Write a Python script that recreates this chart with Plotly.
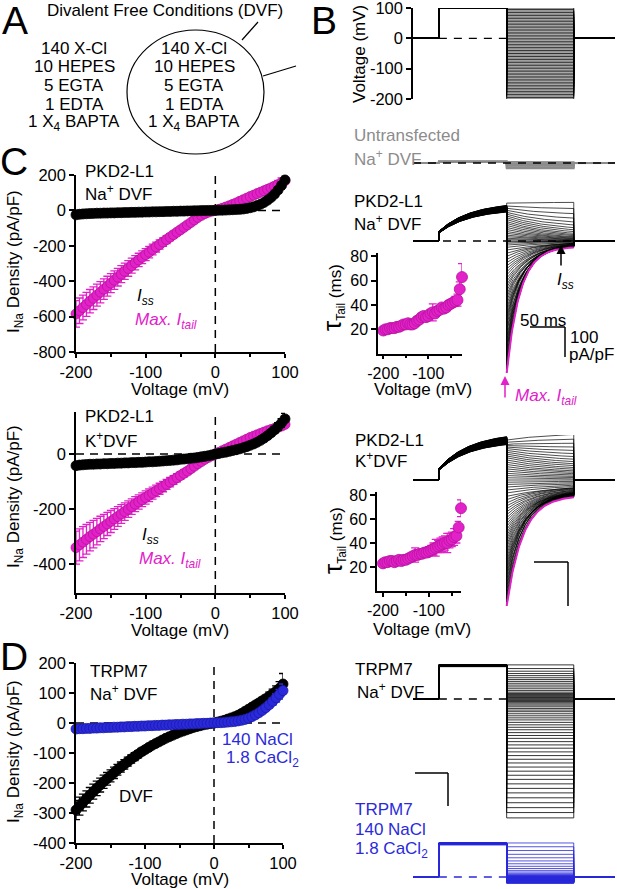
import numpy as np
import plotly.graph_objects as go

W, H = 617, 889
FONT = "Arial, 'Liberation Sans', sans-serif"
MAG = "#E221C9"
MAG_DK = "#B8129E"
BLUE = "#2A2ADB"
BLUE_DK = "#1A1AA8"
GRAY = "#8C8C8C"

# ---- I-V data: test voltage (mV) vs current density (pA/pF) ----
volt = list(range(-200, 105, 5))

# PKD2-L1, Na+ DVF
na_tail = [-585, -567, -549, -531, -513, -496, -479, -462, -445, -428,
           -411, -394, -377, -360, -344, -328, -312, -296, -280, -265,
           -250, -236, -221, -207, -193, -179, -165, -151, -137, -123,
           -110, -96, -82, -68, -54, -40, -28, -18, -10, -4,
           0, 6, 12, 19, 26, 34, 42, 51, 60, 69,
           78, 86, 95, 103, 111, 119, 127, 136, 145, 155, 168]
na_tail_err = [75, 72, 70, 68, 66, 64, 62, 60, 58, 56,
               54, 52, 50, 48, 46, 44, 42, 40, 38, 36,
               34, 32, 30, 28, 26, 24, 22, 20, 18, 16,
               15, 14, 12, 11, 10, 8, 6, 5, 4, 3,
               2, 2, 3, 4, 5, 6, 7, 8, 9, 10,
               11, 12, 13, 14, 16, 18, 20, 22, 25, 28, 40]
na_ss = [-25, -22, -20, -19, -18, -17, -16, -16, -15, -15,
         -14, -14, -13, -13, -12, -12, -11, -11, -10, -10,
         -9, -9, -8, -8, -7, -7, -6, -6, -5, -5,
         -4, -4, -3, -3, -2, -2, -1, -1, 0, 0,
         0, 1, 1, 2, 3, 4, 5, 6, 8, 11,
         15, 20, 27, 35, 45, 58, 73, 92, 115, 141, 172]
na_ss_err = [5, 4, 4, 4, 4, 4, 4, 4, 4, 4,
             4, 4, 4, 4, 4, 4, 4, 4, 4, 4,
             3, 3, 3, 3, 3, 3, 3, 3, 3, 3,
             3, 3, 3, 3, 3, 3, 3, 3, 3, 3,
             3, 3, 3, 3, 3, 3, 3, 3, 4, 4,
             5, 5, 6, 7, 8, 10, 12, 14, 17, 20, 30]

# PKD2-L1, K+ DVF
k_tail = [-340, -330, -320, -310, -300, -291, -282, -272, -263, -254,
          -245, -236, -227, -218, -209, -200, -191, -182, -174, -166,
          -158, -150, -142, -134, -126, -118, -110, -102, -94, -86,
          -78, -70, -62, -53, -44, -35, -27, -19, -12, -6,
          0, 6, 12, 18, 24, 30, 36, 42, 48, 54,
          60, 65, 70, 75, 80, 85, 89, 93, 97, 102, 108]
k_tail_err = [60, 58, 56, 54, 52, 50, 48, 46, 44, 42,
              40, 38, 36, 34, 32, 30, 28, 27, 26, 25,
              24, 23, 22, 21, 20, 19, 18, 17, 16, 15,
              14, 13, 12, 11, 10, 9, 8, 7, 6, 5,
              4, 4, 4, 5, 5, 6, 6, 7, 7, 8,
              8, 9, 9, 10, 10, 11, 11, 12, 12, 13, 14]
k_ss = [-42, -40, -39, -38, -37, -37, -36, -36, -35, -35,
        -34, -34, -33, -33, -32, -32, -31, -31, -30, -30,
        -29, -28, -28, -27, -26, -25, -24, -23, -22, -21,
        -19, -18, -17, -15, -14, -12, -10, -8, -6, -3,
        0, 2, 5, 7, 10, 13, 16, 19, 23, 27,
        32, 37, 43, 50, 58, 67, 77, 88, 100, 113, 128]
k_ss_err = [6, 5, 5, 5, 5, 5, 5, 5, 5, 5,
            5, 5, 5, 5, 5, 5, 4, 4, 4, 4,
            4, 4, 4, 4, 4, 4, 4, 4, 4, 4,
            3, 3, 3, 3, 3, 3, 3, 3, 3, 3,
            3, 3, 3, 3, 3, 3, 4, 4, 4, 5,
            5, 6, 6, 7, 8, 9, 10, 12, 14, 16, 20]

# TRPM7, Na+ DVF (black) and 140 NaCl / 1.8 CaCl2 (blue)
dvf_ss = [-290, -277, -265, -253, -241, -229, -218, -207, -196, -186,
          -176, -166, -156, -147, -138, -129, -120, -112, -104, -96,
          -89, -82, -75, -69, -63, -57, -51, -46, -41, -36,
          -31, -27, -23, -19, -15, -12, -9, -6, -4, -2,
          0, 3, 6, 9, 13, 17, 21, 26, 32, 39,
          46, 53, 60, 67, 74, 81, 89, 97, 106, 116, 130]
dvf_err = [32, 30, 28, 27, 26, 25, 24, 23, 22, 21,
           20, 19, 18, 17, 16, 15, 14, 13, 12, 11,
           10, 10, 9, 9, 8, 8, 7, 7, 6, 6,
           5, 5, 5, 4, 4, 4, 3, 3, 3, 3,
           3, 3, 3, 3, 4, 4, 4, 5, 5, 6,
           7, 8, 9, 10, 11, 12, 14, 16, 18, 22, 35]
nacl_ss = [-20, -19, -19, -18, -18, -17, -17, -16, -16, -15,
           -15, -14, -14, -13, -13, -12, -12, -11, -11, -10,
           -10, -9, -9, -8, -8, -7, -7, -6, -6, -5,
           -5, -4, -4, -3, -3, -2, -2, -1, -1, 0,
           0, 1, 1, 2, 3, 4, 5, 7, 9, 12,
           16, 21, 27, 34, 42, 51, 61, 72, 84, 96, 108]
nacl_err = [4, 4, 4, 4, 4, 3, 3, 3, 3, 3,
            3, 3, 3, 3, 3, 3, 3, 3, 3, 3,
            3, 3, 3, 3, 3, 3, 3, 3, 3, 3,
            3, 3, 3, 3, 3, 3, 3, 3, 3, 3,
            3, 3, 3, 3, 3, 3, 3, 3, 4, 4,
            5, 5, 6, 7, 8, 9, 10, 12, 14, 16, 22]

# tail time constants (ms)
na_tau_v = list(range(-200, -20, 5))
na_tau = [19, 20, 20, 21, 21, 21, 22, 22, 23, 24,
          24, 25, 24, 24, 25, 27, 28, 30, 31, 30,
          31, 33, 34, 33, 35, 36, 38, 37, 38, 40,
          41, 42, 43, 44, 53, 63]
na_tau_err = [2, 2, 2, 2, 2, 2, 2, 2, 2, 2,
              2, 2, 2, 2, 2, 3, 3, 3, 3, 3,
              3, 3, 7, 3, 3, 3, 3, 3, 3, 3,
              3, 3, 4, 5, 6, 11]
k_tau_v = list(range(-200, -25, 5))
k_tau = [23, 24, 24, 25, 25, 24, 25, 26, 25, 26,
         26, 27, 28, 29, 30, 30, 31, 31, 32, 32,
         33, 34, 35, 36, 37, 38, 39, 40, 40, 42,
         43, 45, 46, 53, 69]
k_tau_err = [2, 2, 2, 2, 2, 2, 2, 2, 2, 2,
             2, 2, 3, 3, 6, 3, 3, 3, 3, 4,
             4, 4, 5, 7, 5, 6, 6, 6, 8, 6,
             6, 7, 6, 5, 7]

# untransfected cell, leak currents at a subset of test voltages
untr_v = [-200, -150, -100, -50, 0, 50, 100]
untr_i = [-24, -18, -13, -9, -5, -1, 4]
untr_pre = 6

# voltage protocol (ms)
t_step, t_test, t_off, t_end = 37, 134, 230, 289
v_pre = 100

# example TRPM7 cell: outward currents smaller relative to the mean
trpm7_out_gain = 0.64


def X(px):
    return px / W


def Y(py):
    return 1 - py / H


def sweeps(vs, i_ss, i_tail, taus, pre_amp, spread, act_tau, act_frac):
    t_pre = np.arange(t_step, t_test + 0.5, 1.0)
    t_tst = np.arange(t_test, t_off + 0.5, 1.0)
    xs, ys = [], []
    n = len(vs)
    for k in range(n):
        f = 1 - spread * k / max(n - 1, 1)
        pre = pre_amp * f * (act_frac + (1 - act_frac) * (1 - np.exp(-(t_pre - t_step) / act_tau)))
        tst = i_ss[k] + (i_tail[k] - i_ss[k]) * np.exp(-(t_tst - t_test) / taus[k])
        xs += [0, t_step] + list(t_pre) + list(t_tst) + [t_off, t_end, None]
        ys += [0, 0] + list(pre) + list(tst) + [0, 0, None]
    return xs, ys


fig = go.Figure()

# ---------- I-V plots ----------
def iv(y, err, color, edge, xa, ya):
    fig.add_trace(go.Scatter(
        x=volt, y=y, mode="markers", xaxis=xa, yaxis=ya, cliponaxis=False,
        marker=dict(size=10, color=color, line=dict(width=0.8, color=edge)),
        error_y=dict(type="data", array=err, color=color, thickness=1.3, width=4)))

iv(na_tail, na_tail_err, MAG, MAG_DK, "x", "y")
iv(na_ss, na_ss_err, "black", "black", "x", "y")
iv(k_tail, k_tail_err, MAG, MAG_DK, "x2", "y2")
iv(k_ss, k_ss_err, "black", "black", "x2", "y2")
iv(dvf_ss, dvf_err, "black", "black", "x3", "y3")
iv(nacl_ss, nacl_err, BLUE, BLUE_DK, "x3", "y3")

# ---------- voltage protocol ----------
px_, py_ = [], []
for v in volt:
    px_ += [0, t_step, t_step, t_test, t_test, t_off, t_off, t_end, None]
    py_ += [0, 0, v_pre, v_pre, v, v, 0, 0, None]
fig.add_trace(go.Scatter(x=px_, y=py_, mode="lines", xaxis="x4", yaxis="y4",
                         line=dict(color="black", width=0.8)))
fig.add_trace(go.Scatter(x=[t_step, t_test], y=[0, 0], mode="lines", xaxis="x4", yaxis="y4",
                         line=dict(color="black", width=1.3, dash="8px,7px")))

# ---------- untransfected ----------
ux, uy = sweeps(untr_v, untr_i, untr_i, [10] * len(untr_v), untr_pre, 0, 10, 1)
fig.add_trace(go.Scatter(x=ux, y=uy, mode="lines", xaxis="x5", yaxis="y5",
                         line=dict(color=GRAY, width=1.8)))
fig.add_trace(go.Scatter(x=[0, t_end], y=[0, 0], mode="lines", xaxis="x5", yaxis="y5",
                         line=dict(color="black", width=1.3, dash="8px,7px")))

# ---------- PKD2-L1 Na+ traces ----------
na_tau_map = dict(zip(na_tau_v, na_tau))
na_taus = [na_tau_map.get(v, na_tau[-1]) for v in volt]
fig.add_trace(go.Scatter(x=[0, t_end], y=[0, 0], mode="lines", xaxis="x6", yaxis="y6",
                         line=dict(color="black", width=1.3, dash="8px,7px")))
nx, ny = sweeps(volt, na_ss, na_tail, na_taus, na_ss[-1], 0.18, 45, 0.25)
fig.add_trace(go.Scatter(x=nx, y=ny, mode="lines", xaxis="x6", yaxis="y6",
                         line=dict(color="black", width=0.7)))
tt = np.arange(t_test, t_off + 0.5, 1.0)
fig.add_trace(go.Scatter(x=tt, y=na_ss[0] + (na_tail[0] - na_ss[0]) * np.exp(-(tt - t_test) / na_taus[0]),
                         mode="lines", xaxis="x6", yaxis="y6", line=dict(color=MAG, width=2)))

# ---------- PKD2-L1 K+ traces ----------
k_tau_map = dict(zip(k_tau_v, k_tau))
k_taus = [k_tau_map.get(v, k_tau[-1]) for v in volt]
kx, ky = sweeps(volt, k_ss, k_tail, k_taus, k_ss[-1], 0.18, 45, 0.25)
fig.add_trace(go.Scatter(x=kx, y=ky, mode="lines", xaxis="x8", yaxis="y8",
                         line=dict(color="black", width=0.7)))
fig.add_trace(go.Scatter(x=tt, y=k_ss[0] + (k_tail[0] - k_ss[0]) * np.exp(-(tt - t_test) / k_taus[0]),
                         mode="lines", xaxis="x8", yaxis="y8", line=dict(color=MAG, width=2)))

# ---------- tau insets ----------
for vv, tau, err, xa, ya in [(na_tau_v, na_tau, na_tau_err, "x7", "y7"),
                             (k_tau_v, k_tau, k_tau_err, "x9", "y9")]:
    fig.add_trace(go.Scatter(
        x=vv, y=tau, mode="markers", xaxis=xa, yaxis=ya, cliponaxis=False,
        marker=dict(size=11, color=MAG, line=dict(width=0.8, color=MAG_DK)),
        error_y=dict(type="data", array=err, color=MAG, thickness=1.3, width=4)))

# ---------- TRPM7 traces ----------
dvf_disp = [i if i < 0 else i * trpm7_out_gain for i in dvf_ss]
fig.add_trace(go.Scatter(x=[t_step, t_test], y=[0, 0], mode="lines", xaxis="x10", yaxis="y10",
                         line=dict(color="black", width=1.3, dash="8px,7px")))
dx, dy = sweeps(volt, dvf_disp, dvf_disp, [10] * len(volt), dvf_disp[-1], 0.05, 10, 1)
fig.add_trace(go.Scatter(x=dx, y=dy, mode="lines", xaxis="x10", yaxis="y10",
                         line=dict(color="black", width=0.8)))
fig.add_trace(go.Scatter(x=[t_step, t_test], y=[0, 0], mode="lines", xaxis="x11", yaxis="y11",
                         line=dict(color=BLUE, width=1.3, dash="8px,7px")))
bx, by = sweeps(volt, nacl_ss, nacl_ss, [10] * len(volt), nacl_ss[-1], 0.05, 10, 1)
fig.add_trace(go.Scatter(x=bx, y=by, mode="lines", xaxis="x11", yaxis="y11",
                         line=dict(color=BLUE, width=0.8)))

# ---------- axes ----------
def ax(**kw):
    d = dict(showline=True, linecolor="black", linewidth=1.5, ticks="outside", ticklen=5,
             tickwidth=1.5, tickcolor="black", showgrid=False, zeroline=False, automargin=False,
             ticklabeloverflow="allow",
             tickfont=dict(family=FONT, size=16.5, color="black"), fixedrange=True)
    d.update(kw)
    return d


def hidden(dom, rng, anchor):
    return dict(visible=False, domain=dom, range=rng, anchor=anchor, fixedrange=True, automargin=False)


def trace_y(base, top, bot, s, anchor):
    return hidden([Y(bot), Y(top)], [-(bot - base) / s, (base - top) / s], anchor)


minor_x = dict(ticklen=3, ticks="outside", tickcolor="black", tickwidth=1.5)
iv_xt = dict(tickvals=[-200, -100, 0, 100], ticktext=["-200", "-100", "0", "100"], ticklen=4,
             minor=dict(tickvals=[-150, -50, 50], **minor_x))
t_dom = [X(413), X(615)]
t_rng = [0, t_end]
inset_font = dict(family=FONT, size=16, color="black")

fig.update_layout(
    template="none",
    width=W, height=H, margin=dict(l=0, r=0, t=0, b=0, pad=0), autosize=False,
    paper_bgcolor="white", plot_bgcolor="rgba(0,0,0,0)", showlegend=False,
    font=dict(family=FONT, size=17, color="black"),
    xaxis=ax(domain=[X(76), X(285)], range=[-200, 100], anchor="y", **iv_xt),
    yaxis=ax(domain=[Y(352), Y(175)], range=[-800, 200], anchor="x",
             tickvals=[-800, -600, -400, -200, 0, 200],
             ticktext=["-800", "-600", "-400", "-200", "0", "200"]),
    xaxis2=ax(domain=[X(76), X(285)], range=[-200, 100], anchor="y2", **iv_xt),
    yaxis2=ax(domain=[Y(593), Y(412)], range=[-505, 153], anchor="x2",
              tickvals=[-400, -200, 0], ticktext=["-400", "-200", "0"]),
    xaxis3=ax(domain=[X(76), X(283)], range=[-200, 100], anchor="y3", **iv_xt),
    yaxis3=ax(domain=[Y(843), Y(663)], range=[-400, 200], anchor="x3",
              tickvals=[-400, -300, -200, -100, 0, 100, 200],
              ticktext=["-400", "-300", "-200", "-100", "0", "100", "200"]),
    xaxis4=hidden(t_dom, t_rng, "y4"),
    yaxis4=ax(domain=[Y(99), Y(8)], range=[-200, 100], anchor="x4",
              tickvals=[-200, -100, 0, 100], ticktext=["-200", "-100", "0", "100"]),
    xaxis5=hidden(t_dom, t_rng, "y5"),
    yaxis5=trace_y(163, 150, 178, 0.2256, "x5"),
    xaxis6=hidden(t_dom, t_rng, "y6"),
    yaxis6=trace_y(241, 190, 385, 0.2256, "x6"),
    xaxis7=ax(domain=[X(378), X(462)], range=[-211.8, -25], anchor="y7",
              tickvals=[-200, -100], ticktext=["-200", "-100"], ticklen=4,
              minor=dict(tickvals=[-150, -50], **minor_x), tickfont=inset_font),
    yaxis7=ax(domain=[Y(353.6), Y(253)], range=[0, 82.8], anchor="x7",
              tickvals=[20, 40, 60, 80], tickfont=inset_font),
    xaxis8=hidden(t_dom, t_rng, "y8"),
    yaxis8=trace_y(480, 435, 612, 0.37, "x8"),
    xaxis9=ax(domain=[X(377), X(461)], range=[-213, -30], anchor="y9",
              tickvals=[-200, -100], ticktext=["-200", "-100"], ticklen=4,
              minor=dict(tickvals=[-150, -50], **minor_x), tickfont=inset_font),
    yaxis9=ax(domain=[Y(591), Y(492)], range=[0, 82.5], anchor="x9",
              tickvals=[20, 40, 60, 80], tickfont=inset_font),
    xaxis10=hidden(t_dom, t_rng, "y10"),
    yaxis10=trace_y(699, 655, 825, 0.41, "x10"),
    xaxis11=hidden(t_dom, t_rng, "y11"),
    yaxis11=trace_y(877, 835, 889, 0.315, "x11"),
)

# ---------- shapes ----------
shapes = []
dash = dict(color="black", width=1.5, dash="8px,6px")
for xr, yr in [("x", "y"), ("x2", "y2"), ("x3", "y3")]:
    shapes.append(dict(type="line", xref=xr, yref=yr + " domain", x0=0, x1=0, y0=0, y1=1, line=dash, layer="below"))
    shapes.append(dict(type="line", xref=xr + " domain", yref=yr, x0=0, x1=1, y0=0, y1=0, line=dash, layer="below"))


def seg(x0, y0, x1, y1, w=1.5, color="black"):
    shapes.append(dict(type="line", xref="paper", yref="paper", x0=X(x0), y0=Y(y0), x1=X(x1), y1=Y(y1),
                       line=dict(color=color, width=w)))


# scale bars
seg(530, 327, 565, 327); seg(565, 327, 565, 357)
seg(534, 562, 568, 562); seg(568, 562, 568, 606)
seg(415, 773, 448, 773); seg(448, 773, 448, 806)
# panel A cell drawing
shapes.append(dict(type="circle", xref="paper", yref="paper", x0=X(127), x1=X(264), y0=Y(154), y1=Y(30),
                   line=dict(color="black", width=1.2)))
seg(242, 40, 258, 22, 1.2)
seg(263, 76, 296, 66, 1.2)
fig.update_layout(shapes=shapes)

# ---------- text ----------
ann = []


def txt(x, y, s, size=17, color="black", xanchor="left", angle=0):
    ann.append(dict(x=X(x), y=Y(y), xref="paper", yref="paper", text=s, showarrow=False,
                    font=dict(family=FONT, size=size, color=color), xanchor=xanchor,
                    yanchor="middle", textangle=angle))


for lab, x, y in [("A", 15, 21), ("B", 324, 21), ("C", 14, 162), ("D", 14, 656)]:
    txt(x, y, lab, size=39, xanchor="center")

txt(45, 11, "Divalent Free Conditions (DVF)")
sol = ["140 X-Cl", "10 HEPES", "5 EGTA", "1 EDTA", "1 X<sub>4</sub> BAPTA"]
for s, y in zip(sol, [48, 67, 86, 104, 123]):
    txt(74, y, s, xanchor="center")
    txt(194, y, s, xanchor="center")

txt(360, 54, "Voltage (mV)", angle=-90, xanchor="center")
txt(352, 136, "Untransfected", color=GRAY)
txt(352, 158, "Na<sup>+</sup> DVF", color=GRAY)
txt(352, 202, "PKD2-L1")
txt(352, 223, "Na<sup>+</sup> DVF")
txt(353, 440, "PKD2-L1")
txt(353, 460, "K<sup>+</sup>DVF")
txt(353, 669, "TRPM7")
txt(355, 691, "Na<sup>+</sup> DVF")
txt(353, 809, "TRPM7", color=BLUE)
txt(353, 829, "140 NaCl", color=BLUE)
txt(353, 850, "1.8 CaCl<sub>2</sub>", color=BLUE)

txt(543, 320, "50 ms", xanchor="center")
txt(568, 338, "100")
txt(567, 354, "pA/pF")
txt(555, 281, "<i>I<sub>ss</sub></i>")
txt(513, 397, "<i>Max. I<sub>tail</sub></i>", color=MAG)

tau_title = "<span style='font-size:26px'>τ</span><sub>Tail</sub> (ms)"
txt(333, 298, tau_title, angle=-90, xanchor="center")
txt(333, 541, tau_title, angle=-90, xanchor="center")
txt(423, 390, "Voltage (mV)", xanchor="center")
txt(422, 629, "Voltage (mV)", xanchor="center")

# C / D left panels
txt(83, 172, "PKD2-L1")
txt(83, 193, "Na<sup>+</sup> DVF")
txt(135, 297, "<i>I<sub>ss</sub></i>")
txt(133, 321, "<i>Max. I<sub>tail</sub></i>", color=MAG)
txt(83, 417, "PKD2-L1")
txt(83, 440, "K<sup>+</sup>DVF")
txt(140, 536, "<i>I<sub>ss</sub></i>")
txt(137, 560, "<i>Max. I<sub>tail</sub></i>", color=MAG)
txt(88, 671, "TRPM7")
txt(88, 693, "Na<sup>+</sup> DVF")
txt(117, 796, "DVF")
txt(220, 739, "140 NaCl", color=BLUE)
txt(224, 759, "1.8 CaCl<sub>2</sub>", color=BLUE)

ytitle = "I<sub>Na</sub> Density (pA/pF)"
for y in [262, 497, 752]:
    txt(15, y, ytitle, angle=-90, xanchor="center")
for y in [390, 630, 879]:
    txt(180, y, "Voltage (mV)", xanchor="center")

# arrows
ann.append(dict(x=X(561), y=Y(245), xref="paper", yref="paper", ax=0, ay=22, text="",
                showarrow=True, arrowhead=2, arrowsize=1.2, arrowwidth=1.5, arrowcolor="black"))
ann.append(dict(x=X(505), y=Y(376), xref="paper", yref="paper", ax=0, ay=23, text="",
                showarrow=True, arrowhead=2, arrowsize=1.2, arrowwidth=1.5, arrowcolor=MAG))
fig.update_layout(annotations=ann)

# remove the default 8px body margin so the figure fills the window
fig.write_html("out.html", config={"displayModeBar": False},
               post_script="document.body.style.margin='0';document.body.style.overflow='hidden';")
